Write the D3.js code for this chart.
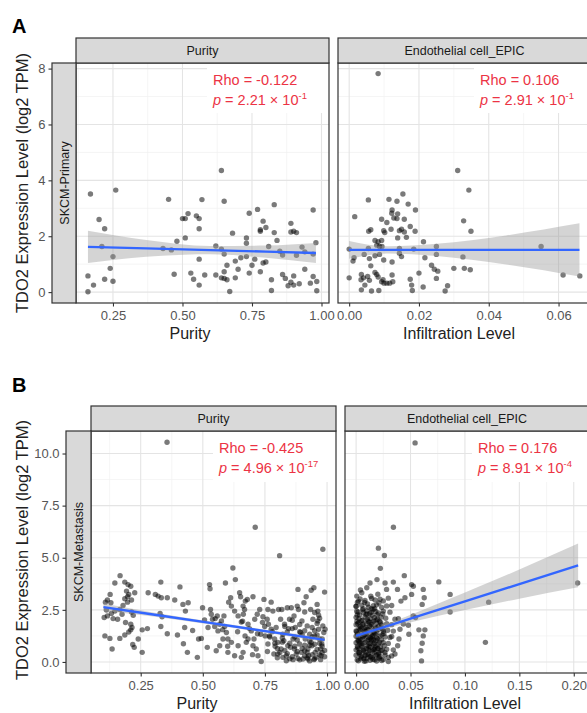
<!DOCTYPE html>
<html>
<head>
<meta charset="utf-8">
<script src="https://cdn.jsdelivr.net/npm/d3@7"></script>
<style>
body{margin:0;background:#fff;}
svg{display:block;font-family:"Liberation Sans",Arial,sans-serif;}
</style>
</head>
<body>
<div id="chart"></div>
<script>
// ---- data ----
var aPurityTicks = [0.25, 0.50, 0.75, 1.00];
var aEndoTicks = [0.00, 0.02, 0.04, 0.06];
var bPurityTicks = [0.25, 0.50, 0.75, 1.00];
var bEndoTicks = [0.00, 0.05, 0.10, 0.15, 0.20];
var aYTicks = [0, 2, 4, 6, 8];
var bYTicks = [0, 2.5, 5, 7.5, 10];

// SKCM-Primary vs Purity
var aPurity = [[0.169,3.51],[0.26,3.65],[0.20,2.60],[0.22,2.27],[0.21,1.63],[0.25,1.27],[0.24,0.85],[0.22,0.46],[0.25,0.39],[0.16,0.58],[0.18,0.25],[0.16,0.01],
	[0.45,3.32],[0.43,1.56],[0.46,1.51],[0.47,0.64],[0.48,1.82],[0.50,2.63],[0.51,2.63],[0.52,2.81],[0.51,1.94],[0.55,2.73],[0.56,2.63],[0.56,2.27],[0.56,1.18],
	[0.53,0.68],[0.54,0.46],[0.56,0.25],[0.57,3.31],[0.58,0.61],[0.62,1.65],[0.62,0.61],[0.64,4.35],[0.65,3.25],[0.64,1.54],[0.65,1.36],[0.64,0.51],[0.65,0.73],
	[0.66,0.96],[0.65,0.49],[0.66,0.44],[0.67,0.02],[0.68,2.11],[0.69,1.11],[0.70,0.82],[0.69,0.51],[0.71,1.23],[0.73,1.75],[0.73,1.94],[0.73,1.27],[0.74,2.82],
	[0.77,2.96],[0.74,0.68],[0.75,0.96],[0.76,1.18],[0.78,2.18],[0.78,2.23],[0.79,2.54],[0.80,2.31],[0.79,1.04],[0.80,1.08],[0.78,0.73],[0.82,0.06],[0.83,3.13],
	[0.83,2.13],[0.84,1.85],[0.82,0.44],[0.81,1.63],[0.85,1.46],[0.86,1.33],[0.86,0.63],[0.87,0.49],[0.89,2.46],[0.89,2.15],[0.90,2.18],[0.91,2.13],[0.89,0.35],
	[0.90,0.25],[0.90,0.58],[0.92,0.30],[0.91,1.32],[0.93,1.61],[0.94,1.44],[0.94,0.82],[0.96,0.32],[0.97,2.94],[0.98,1.77],[0.97,1.36],[0.97,0.56],[0.983,0.38],
	[0.983,0.05],[0.88,0.23]];

// SKCM-Primary vs Endothelial cell_EPIC
var aEndo = [[0.0311,4.35],[0.0343,3.65],[0.0328,2.55],[0.0349,2.18],[0.0326,1.26],[0.030,0.85],[0.033,0.85],[0.0347,0.80],[0.0282,0.23],[0.0275,0.04],
	[0.025,1.63],[0.025,1.35],[0.025,0.49],[0.0236,0.96],[0.0244,0.82],[0.0254,0.75],[0.0217,1.23],[0.0213,1.80],[0.020,0.68],[0.0212,0.18],[0.0179,0.25],
	[0.0181,0.06],[0.0175,0.46],[0.019,2.94],[0.0169,3.15],[0.0154,3.51],[0.0137,3.25],[0.0114,3.32],[0.0055,3.30],[0.0016,2.70],[0.0056,2.18],[0.0062,2.23],
	[0.0123,2.94],[0.0122,2.82],[0.0128,2.65],[0.0139,2.80],[0.0137,2.63],[0.0158,2.61],[0.0093,2.61],[0.0108,2.49],[0.0099,2.20],[0.0102,2.13],[0.0120,2.25],
	[0.0144,2.20],[0.0150,2.25],[0.0175,2.35],[0.0189,2.18],[0.0158,2.15],[0.0139,1.94],[0.0164,1.96],[0.0074,1.85],[0.0083,1.80],[0.0093,1.85],[0.0079,1.68],
	[0.0087,1.63],[0.0094,1.63],[0.0055,1.56],[0.0144,1.56],[0.0185,1.54],[0.0144,1.39],[0.0150,1.27],[0.0043,1.35],[0.0058,1.20],[0.0014,1.23],[0.0011,1.11],
	[0.0074,1.30],[0.0087,1.35],[0.0099,1.15],[0.0062,0.94],[0.0123,1.08],[0.0,0.51],[0.0035,0.63],[0.0041,0.51],[0.0034,0.44],[0.0053,0.56],[0.0058,0.42],
	[0.0079,0.63],[0.0083,0.54],[0.0074,0.70],[0.0097,0.44],[0.0100,0.32],[0.0108,0.32],[0.0116,0.32],[0.0123,0.61],[0.0125,0.37],[0.0045,0.25],[0.0035,0.08],
	[0.0064,0.04],[0.0085,0.06],[0.0093,0.37],[0.055,1.63],[0.0613,0.61],[0.0661,0.58],[0.0083,7.82],[0.0,1.54]];

// SKCM-Metastasis vs Purity
var bPurity = [[0.108,2.87],[0.116,2.21],[0.106,1.25],[0.126,1.13],[0.135,0.62],[0.127,3.24],[0.146,3.79],[0.167,4.14],[0.186,3.83],[0.199,3.71],[0.210,3.63],
	[0.193,3.40],[0.202,3.24],[0.226,3.32],[0.213,2.97],[0.197,2.87],[0.179,2.71],[0.166,2.52],[0.146,2.44],[0.132,2.33],[0.112,2.49],[0.103,2.13],[0.157,2.05],
	[0.139,2.08],[0.175,2.29],[0.189,1.89],[0.210,1.81],[0.215,1.65],[0.210,1.54],[0.202,1.44],[0.186,1.29],[0.166,1.13],[0.218,0.84],[0.224,0.70],[0.256,0.46],
	[0.256,1.54],[0.277,1.60],[0.240,1.10],[0.220,2.24],[0.213,2.40],[0.186,3.03],[0.197,3.13],[0.116,2.97],[0.130,2.84],
	[0.280,3.32],[0.309,3.24],[0.320,3.16],[0.331,3.83],[0.333,3.08],[0.357,3.08],[0.328,2.33],[0.336,2.17],[0.331,1.70],[0.357,1.35],[0.387,2.97],[0.398,1.29],
	[0.408,3.60],[0.420,2.76],[0.430,2.44],[0.441,2.84],[0.427,1.65],[0.422,0.87],[0.438,0.46],[0.459,1.51],[0.478,0.22],[0.483,1.10],[0.494,1.13],[0.499,2.60],
	[0.507,2.02],[0.521,1.65],[0.518,0.70],
	[0.527,3.71],[0.529,3.51],[0.531,2.52],[0.534,2.29],[0.539,2.05],[0.550,2.08],[0.548,1.70],[0.558,2.21],[0.561,1.49],[0.568,1.81],[0.575,1.97],[0.585,2.21],
	[0.588,1.70],[0.591,3.79],[0.595,1.41],[0.601,1.10],[0.604,2.87],[0.612,3.08],[0.615,2.68],[0.621,4.51],[0.631,3.95],[0.628,2.44],[0.642,2.21],[0.648,3.32],
	[0.652,3.13],[0.655,1.92],[0.662,2.68],[0.663,2.29],[0.668,2.52],[0.671,2.92],[0.679,3.00],[0.682,1.81],[0.688,1.60],[0.695,1.49],[0.702,3.13],[0.706,1.10],
	[0.709,2.05],[0.715,0.62],[0.719,2.29],[0.729,2.52],[0.733,1.33],[0.735,0.02],[0.742,2.17],[0.746,3.00],[0.749,1.70],[0.642,0.78],[0.655,0.22],[0.662,0.46],
	[0.675,0.94],[0.615,0.94],[0.601,0.46],[0.568,0.78],[0.554,0.54],[0.628,0.30],[0.581,1.10],[0.682,1.10],[0.702,0.78],[0.722,0.30],
	[0.759,2.05],[0.762,2.52],[0.764,1.81],[0.768,1.25],[0.775,1.57],[0.775,2.87],[0.782,2.44],[0.789,1.10],[0.791,0.75],[0.795,1.65],[0.802,0.38],[0.805,2.52],
	[0.809,5.10],[0.813,2.05],[0.815,0.62],[0.818,2.52],[0.822,1.33],[0.826,1.02],[0.829,1.81],[0.836,0.30],[0.840,2.60],[0.845,1.60],[0.849,2.05],[0.853,0.70],
	[0.856,2.60],[0.863,1.10],[0.867,2.21],[0.872,1.65],[0.876,0.38],[0.880,2.68],[0.883,3.48],[0.885,2.52],[0.889,0.86],[0.893,1.41],[0.896,0.46],[0.899,1.97],
	[0.903,0.14],[0.907,2.84],[0.910,2.40],[0.912,1.10],[0.916,3.13],[0.920,1.73],[0.923,0.62],[0.926,0.30],[0.930,1.33],[0.934,2.52],[0.936,3.44],[0.939,0.78],
	[0.943,2.05],[0.947,3.56],[0.950,1.25],[0.952,0.46],[0.956,0.22],[0.960,2.76],[0.963,2.44],[0.963,1.97],[0.966,1.57],[0.970,1.10],[0.974,0.62],[0.976,0.30],
	[0.979,0.86],[0.983,1.73],[0.987,1.41],[0.990,3.35],[0.992,1.57],[0.983,5.41],[0.966,2.24],[0.950,2.37],[0.936,0.94],[0.910,0.54],[0.869,0.62],[0.842,0.78],
	[0.822,0.22],[0.802,0.94],[0.786,0.38],[0.762,0.86],[0.751,1.25],[0.923,0.14],[0.947,0.11],[0.974,0.11],[0.883,0.17],[0.863,0.11],[0.836,0.06],
	[0.85,0.90],[0.88,0.50],[0.91,0.80],[0.94,0.35],[0.96,0.60],[0.97,0.90],[0.93,1.00],[0.90,1.30],[0.87,1.20],[0.83,0.55],[0.80,0.65],[0.78,1.45],[0.84,1.45],
	[0.89,1.80],[0.95,1.50],[0.98,0.45],[0.92,0.20],[0.86,0.25],[0.82,0.95],[0.76,0.50],
	[0.80,0.20],[0.82,1.15],[0.84,0.40],[0.86,1.60],[0.87,0.75],[0.88,1.05],[0.89,0.10],[0.90,0.65],[0.91,1.50],[0.92,0.45],[0.93,0.80],[0.94,1.20],[0.95,0.15],
	[0.95,0.85],[0.96,1.30],[0.97,0.35],[0.98,0.75],[0.98,1.10],[0.99,0.25],[0.99,0.55],[0.93,0.05],[0.91,0.30],[0.89,1.45],[0.85,0.15],[0.83,1.70],[0.81,0.45],
	[0.79,0.90],[0.77,1.20],[0.96,1.85],[0.94,1.65],[0.72,1.35],[0.70,0.35],[0.67,1.25],[0.64,1.45],[0.60,0.75],[0.58,1.55],[0.66,1.95],[0.74,1.90],[0.86,2.00],
	[0.97,2.10],
	[0.356,10.54],[0.711,6.46]];

// SKCM-Metastasis vs Endothelial cell_EPIC
var bEndo = [[0.0205,5.46],[0.026,5.11],[0.0223,4.49],[0.0443,4.14],[0.0192,3.95],[0.076,3.84],[0.2036,3.79],[0.0864,3.24],[0.1218,2.87],[0.0864,2.40],
	[0.1188,0.94],[0.0632,1.54],[0.0617,1.25],[0.0607,0.90],[0.0595,0.54],[0.0601,0.05],[0.0577,1.54],[0.051,3.71],[0.0526,3.63],[0.0617,3.48],[0.0626,3.08],
	[0.0607,2.76],[0.051,3.24],[0.0449,3.08],[0.0546,2.13],[0.0525,2.21],[0.048,1.76],[0.0485,1.33],[0.0403,1.57],[0.0394,1.10],[0.0342,3.83],[0.038,3.48],
	[0.0412,2.92],[0.0357,2.05],[0.0327,1.22],[0.0382,0.78],[0.0357,0.38],[0.0296,0.22],[0.0266,3.79],[0.028,3.48],[0.0128,3.79],[0.0098,3.56],[0.0052,3.32],
	[0.0006,3.16],[0.0021,2.92],[0.0,2.68],[0.0542,10.51],[0.0343,6.46],
	[0.0037,3.02],[0.0082,2.95],[0.0143,3.05],[0.0174,2.97],[0.0220,3.01],[0.0250,2.93],[0.0296,3.06],
	[0.0,2.66],[0.0052,2.72],[0.0113,2.63],[0.0159,2.70],[0.0189,2.74],[0.0235,2.62],[0.0281,2.69],[0.0327,2.71],
	[0.0006,2.43],[0.0067,2.37],[0.0098,2.45],[0.0137,2.38],[0.0180,2.42],[0.0205,2.35],[0.0250,2.44],[0.0311,2.39],
	[0.0,2.14],[0.0027,2.08],[0.0082,2.16],[0.0128,2.09],[0.0168,2.12],[0.0198,2.05],[0.0229,2.15],[0.0272,2.10],[0.0388,2.07],
	[0.0,1.79],[0.0015,1.85],[0.0058,1.78],[0.0098,1.83],[0.0143,1.80],[0.0189,1.86],[0.0235,1.77],[0.0281,1.84],[0.0327,1.79],[0.0434,1.82],
	[0.0,1.49],[0.0037,1.55],[0.0076,1.47],[0.0113,1.53],[0.0159,1.50],[0.0205,1.56],[0.0250,1.46],[0.0290,1.52],[0.0342,1.48],
	[0.0,1.23],[0.0021,1.18],[0.0067,1.25],[0.0107,1.19],[0.0150,1.22],[0.0189,1.16],[0.0220,1.24],[0.0266,1.20],[0.0311,1.17],
	[0.0,0.92],[0.0037,0.87],[0.0082,0.94],[0.0119,0.88],[0.0168,0.91],[0.0205,0.86],[0.0250,0.93],[0.0296,0.89],
	[0.0,0.58],[0.0027,0.63],[0.0067,0.57],[0.0113,0.62],[0.0159,0.59],[0.0198,0.64],[0.0241,0.56],[0.0281,0.61],[0.0342,0.58],
	[0.0,0.32],[0.0046,0.27],[0.0089,0.33],[0.0137,0.28],[0.0180,0.31],[0.0220,0.26],[0.0266,0.34],[0.0327,0.29],
	[0.0021,0.06],[0.0076,0.03],[0.0128,0.08],[0.0189,0.04],[0.0235,0.07],[0.0296,0.02],
	[0.004,1.70],[0.009,1.30],[0.012,0.75],[0.006,2.00],[0.016,1.05],[0.003,0.45],[0.010,2.30],[0.018,1.65],[0.007,0.15],[0.014,2.55],[0.002,1.00],[0.021,0.45],
	[0.011,1.95],[0.005,0.80],[0.015,0.20],[0.008,1.60],[0.019,1.40],[0.001,2.25],[0.013,1.15],[0.017,0.60],
	[0.0012,2.85],[0.0065,2.55],[0.0105,2.78],[0.0155,2.52],[0.0210,2.83],[0.0032,2.25],[0.0092,2.28],[0.0148,2.24],[0.0195,2.27],[0.0245,2.30],[0.0008,1.95],
	[0.0048,1.98],[0.0118,1.92],[0.0162,1.97],[0.0215,1.94],[0.0028,1.62],[0.0088,1.66],[0.0135,1.68],[0.0178,1.60],[0.0228,1.64],[0.0015,1.35],[0.0052,1.38],
	[0.0095,1.40],[0.0138,1.33],[0.0175,1.36],[0.0255,1.37],[0.0018,1.05],[0.0062,1.08],[0.0102,1.02],[0.0145,1.10],[0.0185,1.03],[0.0232,1.06],[0.0012,0.75],
	[0.0055,0.72],[0.0098,0.78],[0.0132,0.70],[0.0178,0.76],[0.0222,0.73],[0.0025,0.45],[0.0072,0.48],[0.0115,0.42],[0.0165,0.46],[0.0208,0.40],[0.0042,0.15],
	[0.0102,0.18],[0.0155,0.12],[0.0212,0.16],
	[0.0010,0.10],[0.0050,0.22],[0.0090,0.05],[0.0130,0.25],[0.0170,0.10],[0.0210,0.22],[0.0250,0.12],[0.0030,0.38],[0.0070,0.55],[0.0110,0.35],[0.0150,0.52],
	[0.0190,0.36],[0.0230,0.55],[0.0265,0.45],[0.0015,0.68],[0.0055,0.90],[0.0095,0.65],[0.0135,0.88],[0.0175,0.68],[0.0215,0.95],[0.0258,0.78],[0.0035,1.12],
	[0.0075,1.30],[0.0115,1.08],[0.0155,1.28],[0.0195,1.12],[0.0238,1.30],[0.0005,1.45],[0.0045,1.62],[0.0085,1.45],[0.0125,1.72],[0.0165,1.42],[0.0205,1.70],
	[0.0245,1.58],[0.0025,1.90],[0.0065,1.82],[0.0105,2.05],[0.0145,1.88],[0.0185,2.02],[0.0225,1.90],[0.0018,2.40],[0.0060,2.50],[0.0125,2.32],[0.0170,2.55],
	[0.0078,2.85],[0.0135,3.15],[0.0200,3.25],[0.0040,3.45],[0.0033,0.95],[0.0120,0.55],[0.0160,0.85],[0.0080,0.30],[0.0200,0.65],[0.0100,1.55],[0.0140,1.05],
	[0.0060,1.20]];

// fitted lines and confidence half-widths
var aPurityFitX = [0.16, 0.37, 0.60, 0.80, 0.98];
var aPurityFitY = [1.62, 1.564, 1.502, 1.448, 1.40];
var aPurityCI = [0.58, 0.30, 0.15, 0.22, 0.36];
var aEndoFitX = [0.0, 0.011, 0.025, 0.045, 0.066];
var aEndoFitY = [1.51, 1.51, 1.51, 1.51, 1.51];
var aEndoCI = [0.32, 0.13, 0.22, 0.52, 0.95];
var bPurityFitX = [0.10, 0.30, 0.55, 0.80, 0.99];
var bPurityFitY = [2.63, 2.277, 1.836, 1.395, 1.06];
var bPurityCI = [0.17, 0.10, 0.07, 0.08, 0.12];
var bEndoFitX = [0.0, 0.03, 0.06, 0.10, 0.15, 0.204];
var bEndoFitY = [1.25, 1.747, 2.244, 2.907, 3.735, 4.63];
var bEndoCI = [0.12, 0.12, 0.22, 0.42, 0.70, 1.05];

var rhoText = ["Rho = -0.122", "Rho = 0.106", "Rho = -0.425", "Rho = 0.176"];
var pMantissa = ["2.21", "2.91", "4.96", "8.91"];
var pExponent = ["-1", "-1", "-17", "-4"];

// ---- drawing ----
var svg = d3.select("#chart").append("svg").attr("width", 587).attr("height", 713);
var red = "#ec3344";

function minorTicks(major, dom){
	var step = major[1] - major[0], out = [];
	for (var k = -1; k <= major.length; k++){
		var v = major[0] + step * k + step / 2;
		if (v > dom[0] && v < dom[1]) out.push(v);
	}
	return out;
}

function drawPanel(p){
	var x = d3.scaleLinear().domain(p.xDomain).range([p.left, p.right]);
	var y = d3.scaleLinear().domain(p.yDomain).range([p.bottom, p.top]);
	var g = svg.append("g");

	svg.append("clipPath").attr("id", "clip" + p.id)
		.append("rect").attr("x", p.left).attr("y", p.top)
		.attr("width", p.right - p.left).attr("height", p.bottom - p.top);
	var inner = g.append("g").attr("clip-path", "url(#clip" + p.id + ")");

	inner.append("rect").attr("x", p.left).attr("y", p.top)
		.attr("width", p.right - p.left).attr("height", p.bottom - p.top).attr("fill", "#fff");

	// grid
	inner.selectAll(".mx").data(minorTicks(p.xTicks, p.xDomain)).enter().append("line")
		.attr("x1", d => x(d)).attr("x2", d => x(d)).attr("y1", p.top).attr("y2", p.bottom)
		.attr("stroke", "#f0f0f0").attr("stroke-width", 0.7);
	inner.selectAll(".my").data(minorTicks(p.yTicks, p.yDomain)).enter().append("line")
		.attr("y1", d => y(d)).attr("y2", d => y(d)).attr("x1", p.left).attr("x2", p.right)
		.attr("stroke", "#f0f0f0").attr("stroke-width", 0.7);
	inner.selectAll(".gx").data(p.xTicks).enter().append("line")
		.attr("x1", d => x(d)).attr("x2", d => x(d)).attr("y1", p.top).attr("y2", p.bottom)
		.attr("stroke", "#e4e4e4").attr("stroke-width", 1.1);
	inner.selectAll(".gy").data(p.yTicks).enter().append("line")
		.attr("y1", d => y(d)).attr("y2", d => y(d)).attr("x1", p.left).attr("x2", p.right)
		.attr("stroke", "#e4e4e4").attr("stroke-width", 1.1);

	// points
	inner.selectAll(".pt").data(p.points).enter().append("circle")
		.attr("cx", d => x(d[0])).attr("cy", d => y(d[1])).attr("r", 2.7)
		.attr("fill", "#000").attr("fill-opacity", 0.52);

	// smooth band + line
	var fit = p.fitX.map((v, i) => ({x: v, y: p.fitY[i], h: p.ci[i]}));
	inner.append("path").datum(fit)
		.attr("d", d3.area().curve(d3.curveMonotoneX).x(d => x(d.x)).y0(d => y(d.y - d.h)).y1(d => y(d.y + d.h)))
		.attr("fill", "#999").attr("fill-opacity", 0.42);
	inner.append("path").datum(fit)
		.attr("d", d3.line().x(d => x(d.x)).y(d => y(d.y)))
		.attr("fill", "none").attr("stroke", "#3366ff").attr("stroke-width", 2.4);

	// white label box with stats
	inner.append("rect").attr("x", p.boxLeft).attr("y", p.top)
		.attr("width", p.right - p.boxLeft).attr("height", p.boxBottom - p.top).attr("fill", "#fff");
	g.append("text").attr("x", p.boxLeft + 6).attr("y", p.top + 22)
		.attr("fill", red).attr("font-size", "14.5px").text(rhoText[p.id]);
	var t = g.append("text").attr("x", p.boxLeft + 6).attr("y", p.top + 42)
		.attr("fill", red).attr("font-size", "14.5px");
	t.append("tspan").attr("font-style", "italic").text("p");
	t.append("tspan").text(" = " + pMantissa[p.id] + " \u00d7 10");
	t.append("tspan").attr("dy", -6).attr("font-size", "9.5px").text(pExponent[p.id]);

	// border
	g.append("rect").attr("x", p.left).attr("y", p.top)
		.attr("width", p.right - p.left).attr("height", p.bottom - p.top)
		.attr("fill", "none").attr("stroke", "#333").attr("stroke-width", 1.2);

	// top strip
	g.append("rect").attr("x", p.left).attr("y", p.top - 25)
		.attr("width", p.right - p.left).attr("height", 25)
		.attr("fill", "#d9d9d9").attr("stroke", "#333").attr("stroke-width", 1.2);
	g.append("text").attr("x", (p.left + p.right) / 2).attr("y", p.top - 8)
		.attr("text-anchor", "middle").attr("font-size", "12.5px").attr("fill", "#1a1a1a").text(p.strip);

	// x axis
	var ax = g.append("g").attr("transform", "translate(0," + p.bottom + ")")
		.call(d3.axisBottom(x).tickValues(p.xTicks).tickFormat(d3.format(".2f")).tickSize(3.5).tickPadding(4));
	ax.select(".domain").remove();
	ax.selectAll("line").attr("stroke", "#333").attr("stroke-width", 1.1);
	ax.selectAll("text").attr("fill", "#555").attr("font-size", "13px").attr("font-family", "Liberation Sans, Arial, sans-serif");

	g.append("text").attr("x", p.titleX).attr("y", p.bottom + 36)
		.attr("text-anchor", "middle").attr("font-size", "16px").attr("fill", "#222").text(p.xTitle);

	return y;
}

function drawRow(r, y){
	svg.append("rect").attr("x", r.stripLeft).attr("y", r.top)
		.attr("width", r.stripRight - r.stripLeft).attr("height", r.bottom - r.top)
		.attr("fill", "#d9d9d9").attr("stroke", "#333").attr("stroke-width", 1.2);
	svg.append("text").attr("transform", "translate(" + ((r.stripLeft + r.stripRight) / 2 + 4.5) + "," + ((r.top + r.bottom) / 2) + ") rotate(-90)")
		.attr("text-anchor", "middle").attr("font-size", "12.5px").attr("fill", "#1a1a1a").text(r.strip);

	var ay = svg.append("g").attr("transform", "translate(" + r.stripLeft + ",0)")
		.call(d3.axisLeft(y).tickValues(r.yTicks).tickFormat(d3.format(r.fmt)).tickSize(3.5).tickPadding(3));
	ay.select(".domain").remove();
	ay.selectAll("line").attr("stroke", "#333").attr("stroke-width", 1.1);
	ay.selectAll("text").attr("fill", "#555").attr("font-size", "13px").attr("font-family", "Liberation Sans, Arial, sans-serif");

	svg.append("text").attr("transform", "translate(28," + r.titleY + ") rotate(-90)")
		.attr("text-anchor", "middle").attr("font-size", "16.5px").attr("fill", "#222")
		.text("TDO2 Expression Level (log2 TPM)");

	svg.append("text").attr("x", 12).attr("y", r.letterY)
		.attr("font-size", "20px").attr("font-weight", "bold").attr("fill", "#000").text(r.letter);
}

// row A
var yA = drawPanel({id: 0, left: 76, right: 329, top: 63, bottom: 303,
	xDomain: [0.117, 1.027], yDomain: [-0.39, 8.2], xTicks: aPurityTicks, yTicks: aYTicks,
	points: aPurity, fitX: aPurityFitX, fitY: aPurityFitY, ci: aPurityCI,
	strip: "Purity", xTitle: "Purity", titleX: 190, boxLeft: 207, boxBottom: 113});
drawPanel({id: 1, left: 338, right: 591, top: 63, bottom: 303,
	xDomain: [-0.0032, 0.0693], yDomain: [-0.39, 8.2], xTicks: aEndoTicks, yTicks: aYTicks,
	points: aEndo, fitX: aEndoFitX, fitY: aEndoFitY, ci: aEndoCI,
	strip: "Endothelial cell_EPIC", xTitle: "Infiltration Level", titleX: 459, boxLeft: 474, boxBottom: 113});
drawRow({stripLeft: 52, stripRight: 76, top: 63, bottom: 303, yTicks: aYTicks, fmt: "d",
	strip: "SKCM-Primary", titleY: 183, letter: "A", letterY: 33}, yA);

// row B
var yB = drawPanel({id: 2, left: 91, right: 336, top: 431, bottom: 673,
	xDomain: [0.05, 1.036], yDomain: [-0.53, 11.08], xTicks: bPurityTicks, yTicks: bYTicks,
	points: bPurity, fitX: bPurityFitX, fitY: bPurityFitY, ci: bPurityCI,
	strip: "Purity", xTitle: "Purity", titleX: 197, boxLeft: 213, boxBottom: 482});
drawPanel({id: 3, left: 345, right: 589, top: 431, bottom: 673,
	xDomain: [-0.0102, 0.214], yDomain: [-0.53, 11.08], xTicks: bEndoTicks, yTicks: bYTicks,
	points: bEndo, fitX: bEndoFitX, fitY: bEndoFitY, ci: bEndoCI,
	strip: "Endothelial cell_EPIC", xTitle: "Infiltration Level", titleX: 465, boxLeft: 472, boxBottom: 482});
drawRow({stripLeft: 66, stripRight: 91, top: 431, bottom: 673, yTicks: bYTicks, fmt: ".1f",
	strip: "SKCM-Metastasis", titleY: 550, letter: "B", letterY: 392}, yB);
</script>
</body>
</html>
